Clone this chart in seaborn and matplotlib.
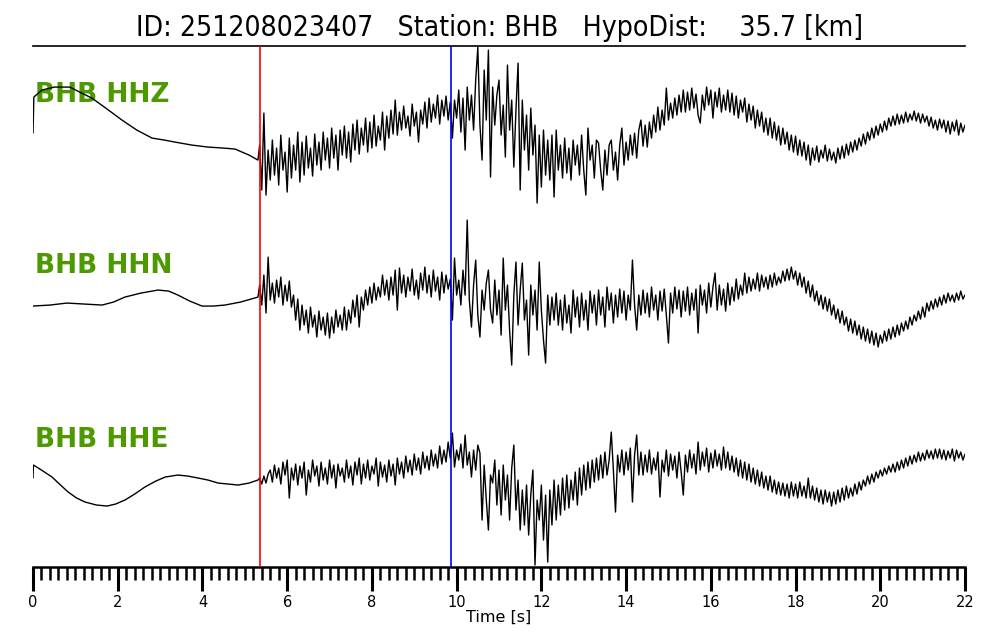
import numpy as np
import matplotlib
matplotlib.use("Agg")
import matplotlib.pyplot as plt
import seaborn as sns
from matplotlib.ticker import MultipleLocator

sns.set_style("white")
plt.rcParams['font.family'] = ['DejaVu Sans']
plt.rcParams.update({"text.color": "black", "axes.labelcolor": "black",
                     "xtick.color": "black", "axes.edgecolor": "black"})

#%% picks and labels
event_id = "251208023407"
station = "BHB"
hypo_dist = 35.7
p_pick = 5.36
s_pick = 9.87
channels = ["HHZ", "HHN", "HHE"]

#%% pre-event part (hand read), amplitude in screen px, up is positive
pre_t = {
    "HHZ": [0.0, 0.02, 0.21, 0.5, 0.87, 1.1, 1.39, 1.75, 2.1, 2.45, 2.81, 3.1, 3.35, 3.75, 4.13, 4.5, 4.77, 5.1, 5.31],
    "HHN": [0.0, 0.4, 0.8, 1.2, 1.63, 1.9, 2.17, 2.55, 2.95, 3.2, 3.42, 3.7, 3.99, 4.25, 4.53, 4.9, 5.31],
    "HHE": [0.0, 0.01, 0.2, 0.45, 0.65, 0.83, 1.03, 1.23, 1.5, 1.75, 1.95, 2.17, 2.4, 2.64, 2.9, 3.12, 3.42, 3.65, 3.9, 4.13, 4.37, 4.6, 4.84, 5.1, 5.31],
}
pre_a = {
    "HHZ": [7, 43, 50, 53, 53, 48, 42, 31, 20, 10, 2, 0, -2, -5, -7, -8, -9, -15, -20],
    "HHN": [-1, 0, 2, 1, 0, 3, 8, 12, 15, 14, 10, 4, -1, -1, 0, 3, 8],
    "HHE": [2, 15, 10, 3, -5, -12, -18, -22, -25, -26, -24, -20, -14, -7, -1, 3, 5, 4, 2, 0, -3, -4, -5, -3, 0],
}

#%% after the P pick, samples every 0.05 s from 5.35 s to 22.0 s
hhz = [
    -5, -50, 27, -55, -10, -40, 0, -35, -8, -45, 5, -30, -12, -52, 2, -38, -5, -30, 8, -42,
    -2, -35, 4, -28, -8, -36, 6, -25, -2, -30, 8, -20, 2, -28, 12, -18, 5, -30, 10, -15,
    14, -18, 8, -22, 16, -10, 20, -14, 12, -5, 22, -12, 18, -8, 25, -6, 14, 0, 28, -10,
    24, 2, 30, 6, 40, 5, 28, 10, 34, 12, 24, 4, 36, 14, 28, -2, 30, 16, 38, 12,
    42, 18, 36, 22, 45, 16, 40, 24, 44, 20, 38, 2, 40, 22, 50, 8, 42, -10, 53, 20,
    45, 10, 60, 93, 15, -20, 70, 20, 90, -37, 53, 15, 45, 60, 5, 35, -17, 75, 10, 40,
    -27, 30, 77, -50, 40, -10, 25, -30, 32, -15, 15, -63, 5, -47, 10, -35, 0, -40, 5, -57,
    10, -30, -5, -38, 2, -33, -8, -40, 0, -25, -5, -35, 5, -30, -55, 12, -20, -5, -38, 0,
    -3, -30, -50, -10, -35, -5, 0, -30, -12, -40, -5, 12, -25, -2, -20, 5, -15, 7, -18, 10,
    20, -6, 15, -7, 18, 2, 25, 8, 33, 10, 30, 15, 52, 20, 37, 22, 42, 25, 45, 28,
    50, 28, 48, 30, 52, 32, 46, 25, 17, 45, 30, 53, 35, 50, 22, 48, 33, 52, 28, 45,
    30, 50, 28, 47, 25, 44, 22, 40, 28, 42, 18, 36, 20, 34, 12, 30, 14, 28, 8, 22,
    5, 22, 2, 18, 0, 14, -5, 12, -4, 8, -10, 5, -12, 4, -15, 0, -16, -2, -20, -5,
    -25, -8, -20, -6, -22, -10, -18, -5, -21, -9, -20, -12, -23, -8, -19, -6, -18, -4, -15, -2,
    -12, 0, -10, 2, -6, 6, -4, 8, 0, 12, 2, 14, 5, 16, 8, 19, 10, 22, 14, 24,
    15, 26, 16, 25, 17, 28, 18, 26, 20, 29, 19, 27, 17, 26, 18, 24, 14, 23, 12, 20,
    10, 21, 12, 20, 8, 19, 6, 18, 9, 20, 5, 17, 8, 15,
]
hhn = [
    20, 0, 30, -8, 48, 5, 22, 2, 25, 8, 28, 0, 20, 4, 24, -2, 10, -15, 6, -25,
    0, -20, -5, -28, -2, -22, -10, -32, -6, -25, -12, -30, -8, -33, -12, -28, -5, -22, -10, -25,
    -2, -25, -5, -18, 5, -12, 10, -22, 8, -5, 15, 0, 18, 2, 22, 5, 18, 8, 30, 10,
    25, 5, 28, 10, 35, -5, 37, 12, 30, 8, 28, 14, 36, 10, 25, 6, 32, 15, 38, 12,
    30, 8, 35, 14, 28, 5, 33, 12, 30, 16, 26, -15, 47, 10, 25, 0, 35, 10, 85, 5,
    -22, 20, 45, -10, -32, 15, -5, 22, 35, -5, -18, 25, -10, 15, -30, 47, -5, 20, -25, -60,
    10, 43, -20, 15, 42, -15, 5, -50, 20, -10, 15, -25, 43, -5, -35, -58, 10, -20, 8, -15,
    12, -20, 5, -25, 10, -18, 0, -28, 15, -12, 8, -22, 12, -15, 5, -25, 14, -8, 10, -20,
    15, -10, 8, -22, 18, -5, 12, -18, 10, -12, 16, -8, 14, -15, 10, -5, 45, 0, -25, 10,
    -10, 15, -8, 12, -12, 18, -5, 10, -15, 14, -6, 16, -10, -38, 12, -8, 18, -4, 15, -12,
    14, -6, 18, -10, 12, -5, 16, -28, 20, 0, 15, -8, 22, -2, 18, 32, -5, 20, 0, 16,
    -6, 22, 0, 18, 4, 26, 6, 20, 10, 32, 12, 28, 14, 26, 16, 32, 14, 30, 18, 28,
    16, 30, 18, 32, 20, 28, 22, 34, 24, 36, 25, 38, 26, 34, 20, 32, 18, 28, 12, 24,
    8, 20, 4, 14, 0, 10, -4, 8, -6, 6, -10, 0, -14, -4, -18, -6, -20, -12, -26, -14,
    -28, -16, -30, -20, -34, -22, -36, -24, -38, -26, -40, -28, -42, -30, -38, -26, -36, -24, -34, -22,
    -32, -20, -30, -18, -26, -16, -24, -12, -20, -10, -16, -6, -14, -2, -12, 2, -6, 4, -4, 6,
    -2, 8, 0, 10, 2, 12, 4, 10, 3, 12, 5, 14, 6, 10,
]
hhe = [
    2, -4, 4, -3, 6, 10, -2, 15, 2, 12, -4, 18, 5, 20, -18, 12, 0, 16, -5, 14,
    2, 18, -15, 10, -2, 20, 4, 14, -6, 18, 0, 12, -4, 20, 2, 15, -8, 16, 4, 12,
    -2, 20, 2, 14, -5, 18, 5, 22, -4, 16, 2, 20, 0, 14, 6, 22, -6, 18, 3, 15,
    -2, 20, 4, 16, -5, 22, 6, 18, 2, 24, 8, 20, 5, 26, 10, 22, 6, 28, 12, 24,
    10, 30, 14, 26, 12, 34, 16, 30, 18, 38, 22, 47, 13, 30, 20, 36, 12, 45, 15, 28,
    3, 30, 10, 35, 27, -40, 15, -20, -50, 5, -3, 20, -25, 10, -35, 15, -20, 5, -40, 12,
    35, -30, 0, -50, -10, -45, -5, -55, -15, 10, -85, -20, -40, -5, -60, -15, -82, -10, -45, 0,
    -40, -5, -35, 2, -30, 5, -28, 0, -20, 8, -25, 12, -15, 15, -10, 18, -8, 20, -2, 22,
    0, 25, 2, 28, 5, 20, 48, 10, -32, 25, 8, 30, 5, 28, 10, 32, -22, 25, 45, 5,
    28, 5, 25, 8, 30, 6, 22, 10, 28, -17, 20, 8, 30, 4, 26, 10, 24, 2, 28, 8,
    -15, 25, 8, 30, 12, 26, 6, 38, 10, 28, 14, 32, 8, 27, 12, 30, 14, 26, 10, 33,
    12, 28, 10, 24, 8, 22, 4, 20, 2, 18, 0, 16, -2, 12, -4, 10, -6, 8, -8, 4,
    -10, 4, -12, 0, -14, -2, -15, -3, -16, -4, -18, -2, -16, -4, -18, -2, -16, -6, -18, 2,
    -18, -6, -20, -8, -22, -10, -24, -10, -22, -12, -26, -12, -24, -10, -22, -8, -20, -6, -18, -8,
    -16, -4, -14, -2, -10, 0, -6, 4, -4, 6, -2, 8, 2, 10, 4, 12, 6, 14, 8, 16,
    8, 18, 10, 20, 12, 22, 14, 24, 16, 25, 18, 28, 19, 27, 20, 30, 22, 29, 21, 31,
    22, 31, 21, 30, 20, 29, 22, 31, 19, 30, 22, 28, 20, 26,
]
post_a = {"HHZ": hhz, "HHN": hhn, "HHE": hhe}
post_t = np.round(5.35 + 0.05 * np.arange(len(hhz)), 2)

# vertical place of each trace on the page (px above the time axis)
offsets = {"HHZ": 427, "HHN": 262, "HHE": 87}
label_y = {"HHZ": 465, "HHN": 294, "HHE": 120}

#%%
fig, ax = plt.subplots(figsize=(10, 6.4), dpi=100)
fig.subplots_adjust(left=0.033, right=0.965, top=0.928, bottom=0.114)

for ch in channels:
    t = np.concatenate([pre_t[ch], post_t])
    y = np.concatenate([pre_a[ch], post_a[ch]]) + offsets[ch]
    sns.lineplot(x=t, y=y, ax=ax, color="black", linewidth=1.0,
                 estimator=None, errorbar=None, sort=False, zorder=3)
    ax.text(0.05, label_y[ch], f"{station} {ch}", color="#4c9a00",
            fontsize=19, fontweight="bold", va="baseline", ha="left", zorder=1)

ax.axvline(p_pick, color="red", linewidth=1.2, zorder=4)
ax.axvline(s_pick, color="blue", linewidth=1.2, zorder=4)

ax.set_xlim(0, 22)
ax.set_ylim(0, 521)
ax.set_yticks([])
ax.set_ylabel("")
for s in ["left", "right"]:
    ax.spines[s].set_visible(False)
ax.spines["top"].set_linewidth(1.2)
ax.spines["bottom"].set_linewidth(1.8)
ax.xaxis.set_major_locator(MultipleLocator(2))
ax.xaxis.set_minor_locator(MultipleLocator(0.2))
ax.tick_params(axis="x", which="major", direction="out", length=17, width=2.2,
               labelsize=10.5, pad=3, bottom=True, colors="black")
ax.tick_params(axis="x", which="minor", direction="out", length=9, width=1.8,
               bottom=True, colors="black")
ax.set_xlabel("Time [s]", fontsize=11.5, labelpad=0, color="black")

ax.set_title(f"ID: {event_id}   Station: {station}   HypoDist:    {hypo_dist} [km]",
             fontsize=20.3, fontstretch="condensed", pad=7, color="black")

fig.savefig("out.png", dpi=100)
